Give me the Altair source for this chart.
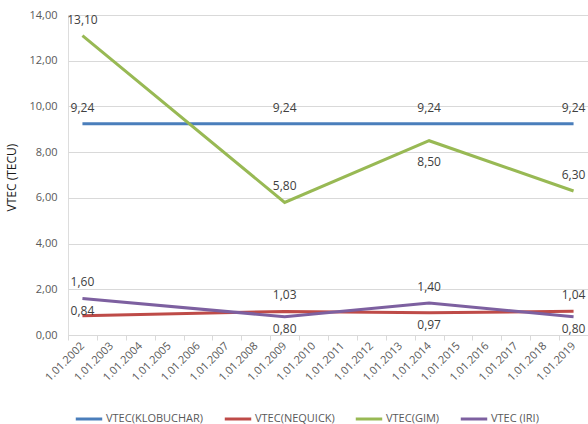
import altair as alt
import pandas as pd

years = [f"1.01.{y}" for y in range(2002, 2020)]
data_years = ["1.01.2002", "1.01.2009", "1.01.2014", "1.01.2019"]
series_names = ["VTEC(KLOBUCHAR)", "VTEC(NEQUICK)", "VTEC(GIM)", "VTEC (IRI)"]
klobuchar = [9.24, 9.24, 9.24, 9.24]
nequick = [0.84, 1.03, 0.97, 1.04]
gim = [13.10, 5.80, 8.50, 6.30]
iri = [1.60, 0.80, 1.40, 0.80]
colors = ["#4a7ebb", "#be4b48", "#98b954", "#7d60a0"]

# label placement (layout only): a = above, b = below, c = on line
placement = {
    "VTEC(KLOBUCHAR)": ["a", "a", "a", "a"],
    "VTEC(NEQUICK)": ["c", "a", "b", "a"],
    "VTEC(GIM)": ["a", "a", "b2", "a"],
    "VTEC (IRI)": ["a", "b", "a", "b"],
}
dy_map = {"a": -16, "b": 12, "b2": 21, "c": -5}

rows = []
for name, vals in zip(series_names, [klobuchar, nequick, gim, iri]):
    for yr, v, p in zip(data_years, vals, placement[name]):
        rows.append({"date": yr, "series": name, "value": v,
                     "label": f"{v:.2f}".replace(".", ","), "pos": p})
df = pd.DataFrame(rows)

x = alt.X("date:N", scale=alt.Scale(domain=years, paddingInner=0, paddingOuter=0),
          axis=alt.Axis(title=None, labelAngle=-45, labelAlign="right", labelBaseline="middle",
                        labelColor="#595959", labelFontSize=11, labelFont="Open Sans",
                        labelPadding=4, tickBand="extent", tickColor="#d9d9d9", tickSize=5,
                        domainColor="#d9d9d9", grid=False, labelOverlap=False))
y = alt.Y("value:Q", scale=alt.Scale(domain=[0, 14], nice=False),
          axis=alt.Axis(title="VTEC (TECU)", values=[0, 2, 4, 6, 8, 10, 12, 14],
                        labelExpr="replace(format(datum.value, '.2f'), '.', ',')",
                        labelColor="#595959", labelFontSize=11, labelFont="Open Sans",
                        labelPadding=11, ticks=False, domain=False,
                        gridColor="#d9d9d9", gridWidth=1,
                        titleFont="Open Sans", titleFontSize=12, titleFontWeight=400,
                        titleColor="#1a1a1a", titleX=-50, titleY=162))

color = alt.Color("series:N", scale=alt.Scale(domain=series_names, range=colors),
                  sort=series_names,
                  legend=alt.Legend(title=None, orient="none", direction="horizontal",
                                    legendX=6, legendY=389, symbolType="stroke",
                                    symbolSize=700, symbolStrokeWidth=3,
                                    labelFont="Open Sans", labelFontSize=11, labelColor="#595959",
                                    columnPadding=14, labelOffset=2))

base = alt.Chart(df)
lines = base.mark_line(strokeWidth=3).encode(x=x, y=y, color=color,
                                              order=alt.Order("date:N"))
layers = [lines]
for p, dy in dy_map.items():
    layers.append(
        base.transform_filter(alt.datum.pos == p)
        .mark_text(dy=dy, font="Open Sans", fontSize=12, color="#404040", baseline="middle")
        .encode(x=x, y=y, text="label:N")
    )

chart = alt.layer(*layers).properties(
    width=520, height=320,
    autosize=alt.AutoSizeParams(type="none"),
    padding={"left": 68, "top": 15, "right": 0, "bottom": 89},
).configure_view(stroke=None).configure(background="white")

chart.save("out.html", embed_options={"renderer": "svg", "actions": False})
